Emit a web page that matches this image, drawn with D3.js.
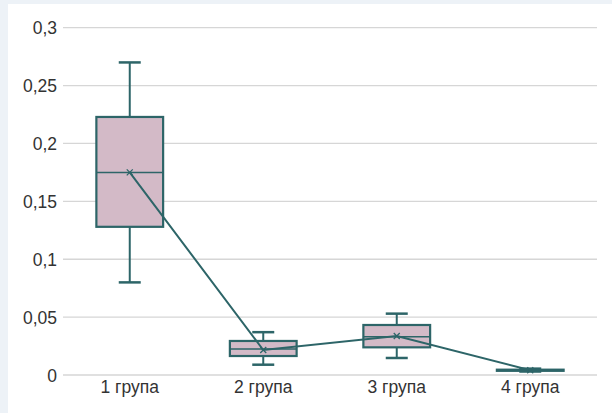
<!DOCTYPE html>
<html><head><meta charset="utf-8">
<script src="https://cdn.jsdelivr.net/npm/d3@7"></script>
<style>body{margin:0;background:#edf2f7;}svg{display:block;}</style>
</head><body>
<svg id="c" width="612" height="413"></svg>
<script>
const categories = ["1 група","2 група","3 група","4 група"];
const whiskerLow = [0.080, 0.0089, 0.0147, 0.0030];
const q1 = [0.128, 0.0164, 0.0239, 0.0036];
const median = [0.175, 0.0225, 0.0331, 0.0041];
const q3 = [0.2229, 0.0294, 0.0432, 0.0046];
const whiskerHigh = [0.270, 0.037, 0.053, 0.0055];
const means = [0.175, 0.0216, 0.0337, 0.0041];
const yTicks = [0, 0.05, 0.1, 0.15, 0.2, 0.25, 0.3];

const svg = d3.select("#c");
svg.append("rect").attr("x",8).attr("y",4).attr("width",604).attr("height",409).attr("fill","#fff");
const teal = "#2d6568", fill = "#d3bac7";
const x = d3.scaleBand().domain(categories).range([63,597]);
const y = d3.scaleLinear().domain([0,0.3]).range([375,27.7]);
const fmt = d => d3.format("")(d).replace(".", ",");
const font = "'Liberation Sans', Arial, sans-serif";

const grid = svg.append("g");
yTicks.forEach(t => {
  grid.append("line").attr("x1",63).attr("x2",597).attr("y1",y(t)).attr("y2",y(t))
    .attr("stroke","#d6d6d6").attr("stroke-width",1.3);
  grid.append("text").attr("x",57).attr("y",y(t)+6.5).attr("text-anchor","end")
    .attr("font-family",font).attr("font-size",17.5).attr("fill","#333").text(fmt(t));
});
categories.forEach(c => {
  svg.append("text").attr("x",x(c)+x.bandwidth()/2).attr("y",393).attr("text-anchor","middle")
    .attr("font-family",font).attr("font-size",17.5).attr("fill","#333").text(c);
});

const bw = x.bandwidth()*0.5, cap = 22;
categories.forEach((c,i) => {
  const cx = x(c)+x.bandwidth()/2;
  const g = svg.append("g").attr("stroke",teal).attr("stroke-width",2);
  g.append("line").attr("x1",cx).attr("x2",cx).attr("y1",y(whiskerHigh[i])).attr("y2",y(q3[i]));
  g.append("line").attr("x1",cx).attr("x2",cx).attr("y1",y(q1[i])).attr("y2",y(whiskerLow[i]));
  g.append("line").attr("x1",cx-cap/2).attr("x2",cx+cap/2).attr("y1",y(whiskerHigh[i])).attr("y2",y(whiskerHigh[i])).attr("stroke-width",2.5);
  g.append("line").attr("x1",cx-cap/2).attr("x2",cx+cap/2).attr("y1",y(whiskerLow[i])).attr("y2",y(whiskerLow[i])).attr("stroke-width",2.5);
  g.append("rect").attr("x",cx-bw/2).attr("y",y(q3[i])).attr("width",bw).attr("height",y(q1[i])-y(q3[i]))
    .attr("fill",fill).attr("stroke-width",2.2);
  g.append("line").attr("x1",cx-bw/2).attr("x2",cx+bw/2).attr("y1",y(median[i])).attr("y2",y(median[i])).attr("stroke-width",1.5);
});
const line = d3.line().x((d,i)=>x(categories[i])+x.bandwidth()/2).y(d=>y(d));
svg.append("path").attr("d",line(means)).attr("fill","none").attr("stroke",teal).attr("stroke-width",2);
means.forEach((m,i) => {
  const cx = x(categories[i])+x.bandwidth()/2, cy = y(m), s=3;
  svg.append("path").attr("d",`M${cx-s},${cy-s}L${cx+s},${cy+s}M${cx-s},${cy+s}L${cx+s},${cy-s}`)
    .attr("stroke",teal).attr("stroke-width",1.3);
});
</script>
</body></html>
